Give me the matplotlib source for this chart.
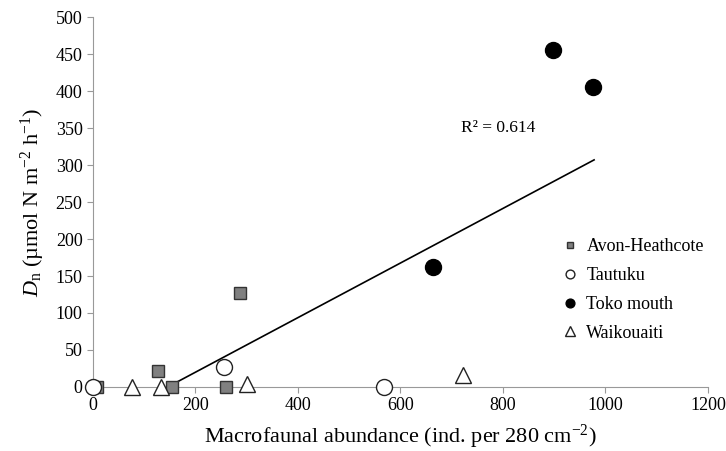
import numpy as np
import matplotlib.pyplot as plt

plt.rcParams['font.family'] = ['Liberation Serif', 'DejaVu Serif']
plt.rcParams['mathtext.fontset'] = 'custom'
plt.rcParams['mathtext.rm'] = 'Liberation Serif'
plt.rcParams['mathtext.it'] = 'Liberation Serif:italic'

# Valores
avon_x = [8, 127, 154, 260, 287]
avon_y = [0, 22, 0, 0, 127]
tautuku_x = [0, 256, 568]
tautuku_y = [0, 27, 0]
toko_x = [663, 897, 976]
toko_y = [162, 455, 405]
waik_x = [76, 133, 300, 722]
waik_y = [0, 0, 4, 16]

# Linha de tendência
trend_x = [146, 978]
trend_y = [0, 307]
r2_label = 'R² = 0.614'

fig = plt.figure(figsize=(7.26, 4.51), dpi=100)
ax = fig.add_axes([0.128, 0.142, 0.847, 0.820])

ax.plot(trend_x, trend_y, color='black', lw=1.2, zorder=2)

ax.plot(avon_x, avon_y, 's', ms=9, mfc='#808080', mec='#333333', mew=1, clip_on=False, zorder=3,
        label='Avon-Heathcote')
ax.plot(tautuku_x, tautuku_y, 'o', ms=11.5, mfc='white', mec='#222222', mew=1, clip_on=False, zorder=4,
        label='Tautuku')
ax.plot(toko_x, toko_y, 'o', ms=11.5, mfc='black', mec='black', clip_on=False, zorder=3,
        label='Toko mouth')
ax.plot(waik_x, waik_y, '^', ms=12, mfc='white', mec='#222222', mew=1, clip_on=False, zorder=4,
        label='Waikouaiti')

ax.text(718, 350, r2_label, fontsize=12.5, ha='left', va='center')

ax.set_xlim(0, 1200)
ax.set_ylim(0, 500)
ax.set_xticks(range(0, 1201, 200))
ax.set_yticks(range(0, 501, 50))
ax.tick_params(axis='both', labelsize=13, color='#999999', length=4, direction='out')

for side in ['top', 'right']:
    ax.spines[side].set_visible(False)
for side in ['left', 'bottom']:
    ax.spines[side].set_color('#999999')

ax.set_xlabel('Macrofaunal abundance (ind. per 280 cm$^{-2}$)', fontsize=16, labelpad=6)
ax.set_ylabel('$D_{\\mathrm{n}}$ (µmol N m$^{-2}$ h$^{-1}$)', fontsize=16, labelpad=6)

leg = ax.legend(loc='center left', bbox_to_anchor=(0.735, 0.262), frameon=False, fontsize=13,
                markerscale=0.55, handlelength=1.0, handletextpad=0.4, labelspacing=0.65)

fig.savefig('out.png', dpi=100)
